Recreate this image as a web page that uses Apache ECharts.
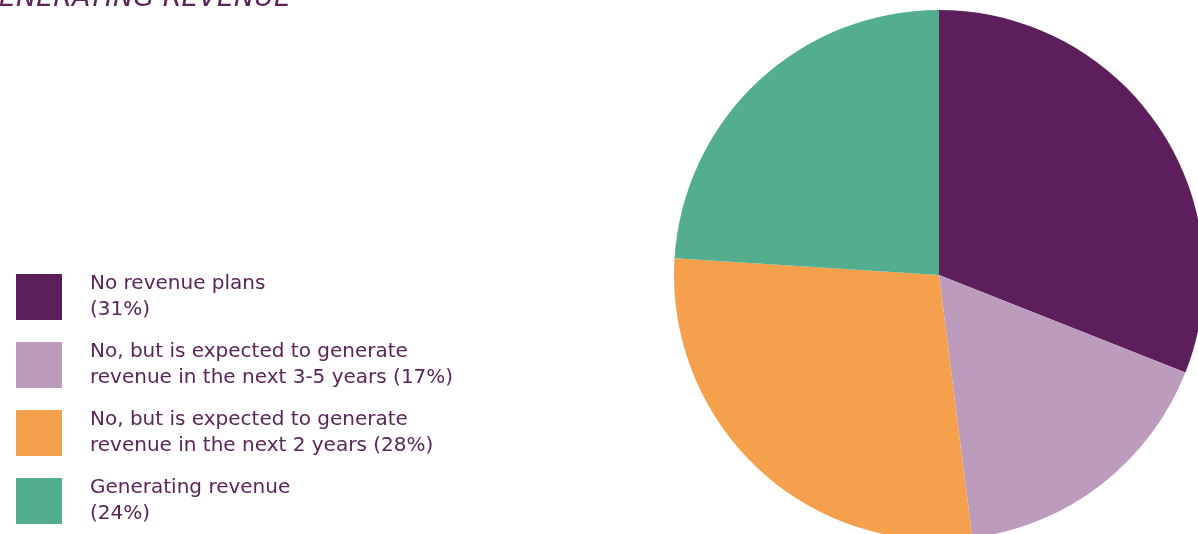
<!DOCTYPE html>
<html>
<head>
<meta charset="utf-8">
<style>
  html, body { margin: 0; padding: 0; background: #ffffff; }
  #chart { width: 1198px; height: 534px; }
</style>
<script src="https://cdn.jsdelivr.net/npm/echarts@6/dist/echarts.min.js"></script>
</head>
<body>
<div id="chart"></div>
<script>
// Revenue status shares (percent)
const categories = [
  'No revenue plans',
  'No, but is expected to generate\nrevenue in the next 3-5 years',
  'No, but is expected to generate\nrevenue in the next 2 years',
  'Generating revenue'
];
const shares = [31, 17, 28, 24];
const sliceColors = ['#5d1f5c', '#bd9bbd', '#f4a04c', '#52ae8e'];
const titleText = 'GENERATING REVENUE';

const textColor = '#5b2558';
const fontFamily = '"DejaVu Sans", "Noto Sans", sans-serif';

const chart = echarts.init(document.getElementById('chart'));

// Single-line names get the percentage on a new line; wrapped names keep it on the last line
function legendLabel(name) {
  const i = categories.indexOf(name);
  const sep = name.indexOf('\n') >= 0 ? ' ' : '\n';
  return name + sep + '(' + shares[i] + '%)';
}

chart.setOption({
  animation: false,
  color: sliceColors,
  graphic: [{
    type: 'text',
    style: {
      text: titleText,
      x: 291,
      y: 12,
      align: 'right',
      verticalAlign: 'bottom',
      fill: textColor,
      font: 'italic 27px ' + fontFamily
    }
  }],
  legend: {
    orient: 'vertical',
    left: 16,
    top: 271,
    height: 263,
    padding: 0,
    itemWidth: 46,
    itemHeight: 46,
    itemGap: 16,
    icon: 'rect',
    selectedMode: false,
    formatter: legendLabel,
    textStyle: {
      color: textColor,
      fontSize: 20,
      lineHeight: 26,
      fontFamily: fontFamily,
      padding: [0, 0, 0, 23]
    },
    data: categories
  },
  series: [{
    type: 'pie',
    center: [939, 275],
    radius: 265,
    startAngle: 90,
    clockwise: true,
    label: { show: false },
    labelLine: { show: false },
    emphasis: { disabled: true },
    itemStyle: { borderWidth: 0 },
    data: categories.map((name, i) => ({ name: name, value: shares[i] }))
  }]
});
</script>
</body>
</html>
